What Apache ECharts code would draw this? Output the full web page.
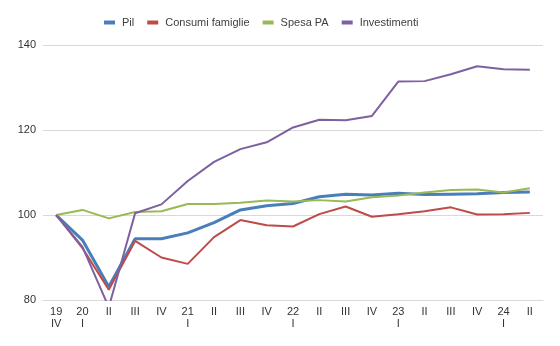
<!DOCTYPE html>
<html><head><meta charset="utf-8">
<script src="https://cdn.jsdelivr.net/npm/echarts@6/dist/echarts.min.js"></script>
<style>html,body{margin:0;padding:0;background:#fff}#c{width:560px;height:346px}</style>
</head><body><div id="c"></div>
<script>
const categories = ['19\nIV','20\nI','II','III','IV','21\nI','II','III','IV','22\nI','II','III','IV','23\nI','II','III','IV','24\nI','II'];
const pil = [100,94.1,83.1,94.4,94.4,95.8,98.2,101.2,102.2,102.7,104.3,104.9,104.7,105.1,104.8,104.9,105.0,105.3,105.4];
const consumi = [100,92.2,82.4,93.9,90.0,88.5,94.8,98.8,97.6,97.3,100.2,102.0,99.6,100.2,100.9,101.8,100.1,100.2,100.5];
const spesaPA = [100,101.2,99.2,100.7,100.9,102.6,102.6,102.9,103.4,103.2,103.5,103.2,104.2,104.6,105.3,105.9,106.0,105.3,106.3];
const investimenti = [100,92.5,78.3,100.4,102.5,108.0,112.5,115.5,117.1,120.6,122.4,122.3,123.3,131.4,131.5,133.1,135.0,134.3,134.2];
const yTicks = [80,100,120,140];

const font = 'Liberation Sans, Arial, sans-serif';
const chart = echarts.init(document.getElementById('c'), null, {renderer:'canvas'});
function s(name, data, color, w){
  return {name, type:'line', data, symbol:'none', smooth:false, clip:true,
    lineStyle:{color, width:w}, itemStyle:{color}};
}
chart.setOption({
  animation:false,
  textStyle:{fontFamily:font},
  legend:{top:12, left:99, itemWidth:11, itemHeight:4, itemGap:13,
    icon:'rect',
    textStyle:{fontFamily:font, fontSize:11, color:'#404040', padding:[0,0,0,2]},
    data:['Pil','Consumi famiglie','Spesa PA','Investimenti']},
  grid:{left:43, right:17, top:45, bottom:46, containLabel:false},
  xAxis:{type:'category', data:categories, boundaryGap:true,
    axisLine:{show:true, lineStyle:{color:'#d9d9d9', width:1}},
    axisTick:{show:false},
    axisLabel:{interval:0, color:'#333', fontSize:11, fontFamily:font, lineHeight:12, margin:6}},
  yAxis:{type:'value', min:yTicks[0], max:yTicks[yTicks.length-1], interval:20,
    axisLine:{show:false}, axisTick:{show:false},
    splitLine:{lineStyle:{color:'#d9d9d9', width:1}},
    axisLabel:{color:'#333', fontSize:11, fontFamily:font, margin:7}},
  series:[
    s('Pil', pil, '#4a7ebb', 3),
    s('Consumi famiglie', consumi, '#be4b48', 2),
    s('Spesa PA', spesaPA, '#98b954', 2),
    s('Investimenti', investimenti, '#7d60a0', 2)
  ]
});
</script></body></html>
